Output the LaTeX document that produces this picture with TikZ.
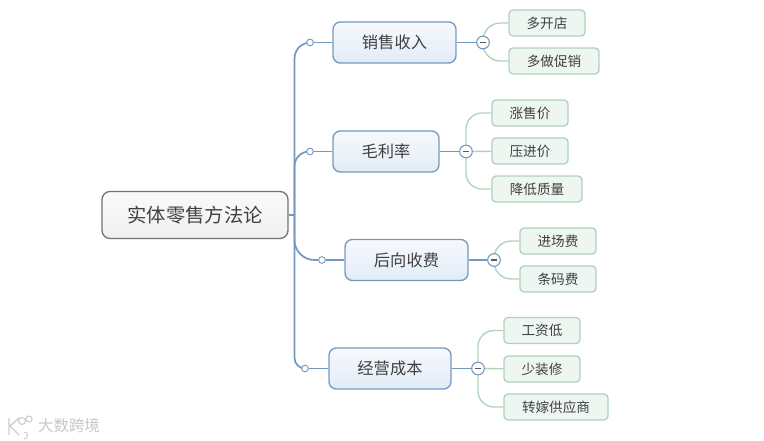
\documentclass[tikz,border=0pt]{standalone}
\usepackage{fontspec}
\setmainfont{Noto Sans CJK SC}
\usetikzlibrary{backgrounds}
\definecolor{txt}{HTML}{404040}
\definecolor{blueln}{HTML}{7499BF}
\definecolor{greenln}{HTML}{B0D2BC}
\definecolor{leaffill}{HTML}{EDF6F0}
\definecolor{branchtop}{HTML}{F6F9FD}
\definecolor{branchbot}{HTML}{E2ECF6}
\tikzset{
  rootbox/.style={draw=black!55,line width=1pt,rounded corners=6pt,top color=white!98!black,bottom color=black!6,inner sep=0pt,minimum width=139.5pt,minimum height=35.25pt,font=\fontsize{14.5pt}{16pt}\selectfont,text=txt},
  branchbox/.style={draw=blueln,line width=1pt,rounded corners=5.5pt,top color=branchtop,bottom color=branchbot,inner sep=0pt,minimum height=30.75pt,font=\fontsize{12.2pt}{14pt}\selectfont,text=txt},
  leafbox/.style={draw=greenln,line width=1pt,rounded corners=3pt,fill=leaffill,inner sep=0pt,minimum height=19.5pt,font=\fontsize{10.2pt}{12pt}\selectfont,text=txt},
  dotnode/.style={circle,draw=blueln,fill=white,line width=.7pt,inner sep=0pt,minimum size=5pt},
  togglenode/.style={circle,draw=blueln,fill=white,line width=.8pt,inner sep=0pt,minimum size=9.5pt,
    path picture={\draw[black!65,line width=.9pt] ([xshift=-2.2pt]path picture bounding box.center) -- ([xshift=2.2pt]path picture bounding box.center);}},
  trunk/.style={draw=blueln,line width=1.3pt},
  twig/.style={draw=greenln,line width=1pt}
}
\begin{document}
\begin{tikzpicture}[x=.75pt,y=-.75pt]
\useasboundingbox (0,0) rectangle (764,441);
\node[rootbox] (root) at (195,215) {实体零售方法论};
\node[branchbox,minimum width=92.25pt] (b1) at (394.5,42.5) {销售收入};
\node[branchbox,minimum width=79.5pt] (b2) at (386,151.5) {毛利率};
\node[branchbox,minimum width=92.25pt] (b3) at (406.5,260) {后向收费};
\node[branchbox,minimum width=91.5pt] (b4) at (390,368.5) {经营成本};
\node[leafbox,minimum width=57pt] (l11) at (547,23) {多开店};
\node[leafbox,minimum width=67.5pt] (l12) at (554,61) {多做促销};
\node[leafbox,minimum width=57pt] (l21) at (530,113) {涨售价};
\node[leafbox,minimum width=57pt] (l22) at (530,151) {压进价};
\node[leafbox,minimum width=67.5pt] (l23) at (537,189) {降低质量};
\node[leafbox,minimum width=57pt] (l31) at (558,241) {进场费};
\node[leafbox,minimum width=57pt] (l32) at (558,279) {条码费};
\node[leafbox,minimum width=57pt] (l41) at (542,330.5) {工资低};
\node[leafbox,minimum width=57pt] (l42) at (542,369) {少装修};
\node[leafbox,minimum width=78pt] (l43) at (556,407) {转嫁供应商};
\node[dotnode] (d1) at (310,42.5) {};
\node[dotnode] (d2) at (310,151.5) {};
\node[dotnode] (d3) at (322,260) {};
\node[dotnode] (d4) at (305,368.5) {};
\node[togglenode] (t1) at (483,42.5) {};
\node[togglenode] (t2) at (466,151.5) {};
\node[togglenode] (t3) at (494,260) {};
\node[togglenode] (t4) at (478,368.5) {};
\coordinate (j) at (294.5,215);
\begin{pgfonlayer}{background}
\draw[trunk] (root.east) -- (j);
\draw[trunk,rounded corners=12pt] (j) |- (d1);
\draw[trunk,rounded corners=11pt] (j) |- (d2);
\draw[trunk,rounded corners=15pt] (j) |- (d3);
\draw[trunk,rounded corners=8pt] (j) |- (d4);
\draw[trunk] (d1) -- (b1);
\draw[trunk] (d2) -- (b2);
\draw[trunk] (d3) -- (b3);
\draw[trunk] (d4) -- (b4);
\draw[trunk] (b1) -- (t1);
\draw[trunk] (b2) -- (t2);
\draw[trunk] (b3) -- (t3);
\draw[trunk] (b4) -- (t4);
\draw[twig,rounded corners=13pt] (t1) |- (l11);
\draw[twig,rounded corners=13pt] (t1) |- (l12);
\draw[twig,rounded corners=12pt] (t2) |- (l21);
\draw[twig] (t2) -- (l22);
\draw[twig,rounded corners=12pt] (t2) |- (l23);
\draw[twig,rounded corners=13pt] (t3) |- (l31);
\draw[twig,rounded corners=13pt] (t3) |- (l32);
\draw[twig,rounded corners=12pt] (t4) |- (l41);
\draw[twig] (t4) -- (l42);
\draw[twig,rounded corners=12pt] (t4) |- (l43);
\end{pgfonlayer}
% watermark
\draw[draw=black!20,line width=1pt] (9,418) -- (9,435) (19,418) -- (10,426) -- (19,435);
\draw[draw=black!20,line width=.8pt] (22,421) circle (3.5) (29,419) circle (3) (24,432) arc (-90:90:3.5);
\node[text=black!22,inner sep=0pt,font=\fontsize{11.6pt}{13pt}\selectfont] (wm) at (69,426) {大数跨境};
\end{tikzpicture}
\end{document}
